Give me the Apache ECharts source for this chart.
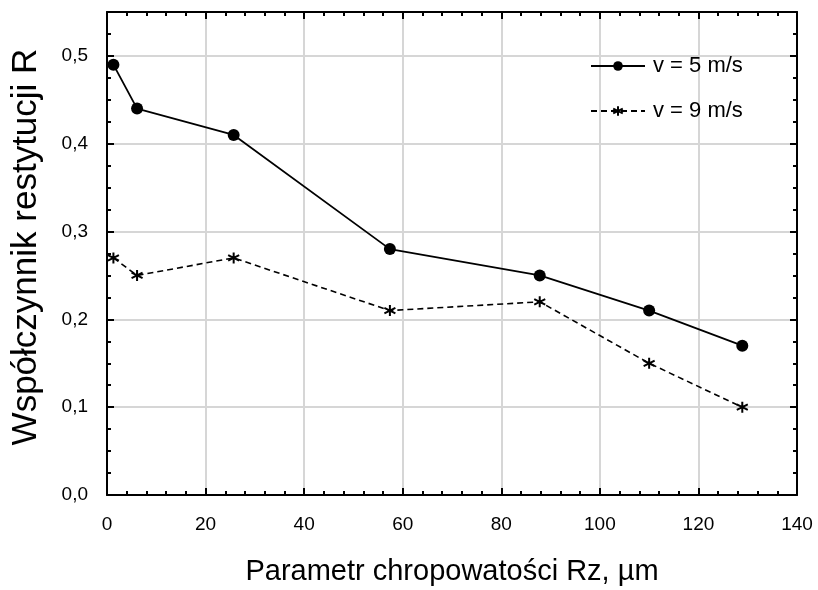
<!DOCTYPE html>
<html>
<head>
<meta charset="utf-8">
<script src="https://cdn.jsdelivr.net/npm/echarts@6/dist/echarts.min.js"></script>
<style>
  html, body { margin: 0; padding: 0; background: #fff; }
  #chart { width: 818px; height: 590px; }
</style>
</head>
<body>
<div id="chart"></div>
<script>
// Roughness parameter Rz [µm]
const rz = [1.3, 6.1, 25.7, 57.4, 87.8, 110, 128.9];
// Coefficient of restitution at v = 5 m/s
const r5 = [0.49, 0.44, 0.41, 0.28, 0.25, 0.21, 0.17];
// Coefficient of restitution at v = 9 m/s
const r9 = [0.27, 0.25, 0.27, 0.21, 0.22, 0.15, 0.10];
const seriesNames = ['v = 5 m/s', 'v = 9 m/s'];
const xTicks = [0, 20, 40, 60, 80, 100, 120, 140];
const yTicks = [0.0, 0.1, 0.2, 0.3, 0.4, 0.5];
const xTitle = 'Parametr chropowatości Rz, µm';
const yTitle = 'Współczynnik restytucji R';

const FONT = 'Liberation Sans, Arial, sans-serif';
const asterisk = 'path://M0,-6L0,6M-5.2,-3L5.2,3M-5.2,3L5.2,-3';

const pairs = (xs, ys) => xs.map((x, i) => [x, ys[i]]);
const comma = v => v.toFixed(1).replace('.', ',');

const axisLine = { show: true, onZero: false, lineStyle: { color: '#000', width: 2 } };
const axisTick = { show: true, inside: true, length: 7, lineStyle: { color: '#000', width: 2 } };
const minorTick = n => ({ show: true, splitNumber: n, length: 4, lineStyle: { color: '#000', width: 2 } });
const gridLine = { show: true, lineStyle: { color: '#d6d6d6', width: 2 } };

const chart = echarts.init(document.getElementById('chart'));
chart.setOption({
  backgroundColor: '#fff',
  animation: false,
  grid: { left: 107, right: 21, top: 12, bottom: 95, containLabel: false, outerBoundsMode: 'none' },
  legend: {
    orient: 'vertical',
    left: 585,
    top: 50,
    itemWidth: 54,
    itemHeight: 12,
    itemGap: 23,
    textStyle: { fontFamily: FONT, fontSize: 22, color: '#000', padding: [0, 0, 0, 3] },
    data: seriesNames
  },
  graphic: [{
    type: 'text',
    x: 26, y: 247,
    rotation: Math.PI / 2,
    style: {
      text: yTitle,
      fontFamily: FONT, fontSize: 35, fill: '#000',
      align: 'center', verticalAlign: 'middle'
    }
  }],
  xAxis: [
    {
      type: 'value', min: 0, max: 140, interval: 20,
      axisLine, axisTick, minorTick: minorTick(5),
      axisLabel: { fontFamily: FONT, fontSize: 19, color: '#000', margin: 20,
        formatter: v => (xTicks.includes(v) ? String(v) : '') },
      splitLine: gridLine,
      name: xTitle,
      nameLocation: 'middle', nameGap: 62,
      nameTextStyle: { fontFamily: FONT, fontSize: 29, color: '#000' }
    },
    {
      type: 'value', position: 'top', min: 0, max: 140, interval: 20,
      axisLine, axisTick, minorTick: minorTick(5),
      axisLabel: { show: false }, splitLine: { show: false }
    }
  ],
  yAxis: [
    {
      type: 'value', min: 0, max: 0.55, interval: 0.1,
      axisLine, axisTick, minorTick: minorTick(4),
      axisLabel: { fontFamily: FONT, fontSize: 19, color: '#000', margin: 19,
        formatter: v => (yTicks.some(t => Math.abs(t - v) < 1e-9) ? comma(v) : '') },
      splitLine: gridLine
    },
    {
      type: 'value', position: 'right', min: 0, max: 0.55, interval: 0.1,
      axisLine, axisTick, minorTick: minorTick(4),
      axisLabel: { show: false }, splitLine: { show: false }
    }
  ],
  series: [
    {
      name: seriesNames[0], type: 'line',
      data: pairs(rz, r5),
      symbol: 'circle', symbolSize: 12,
      itemStyle: { color: '#000' },
      lineStyle: { color: '#000', width: 1.8, type: 'solid' }
    },
    {
      name: seriesNames[1], type: 'line',
      data: pairs(rz, r9),
      symbol: asterisk, symbolSize: 11,
      itemStyle: { color: 'transparent', borderColor: '#000', borderWidth: 2 },
      lineStyle: { color: '#000', width: 1.6, type: [6, 4] }
    }
  ]
});
</script>
</body>
</html>
